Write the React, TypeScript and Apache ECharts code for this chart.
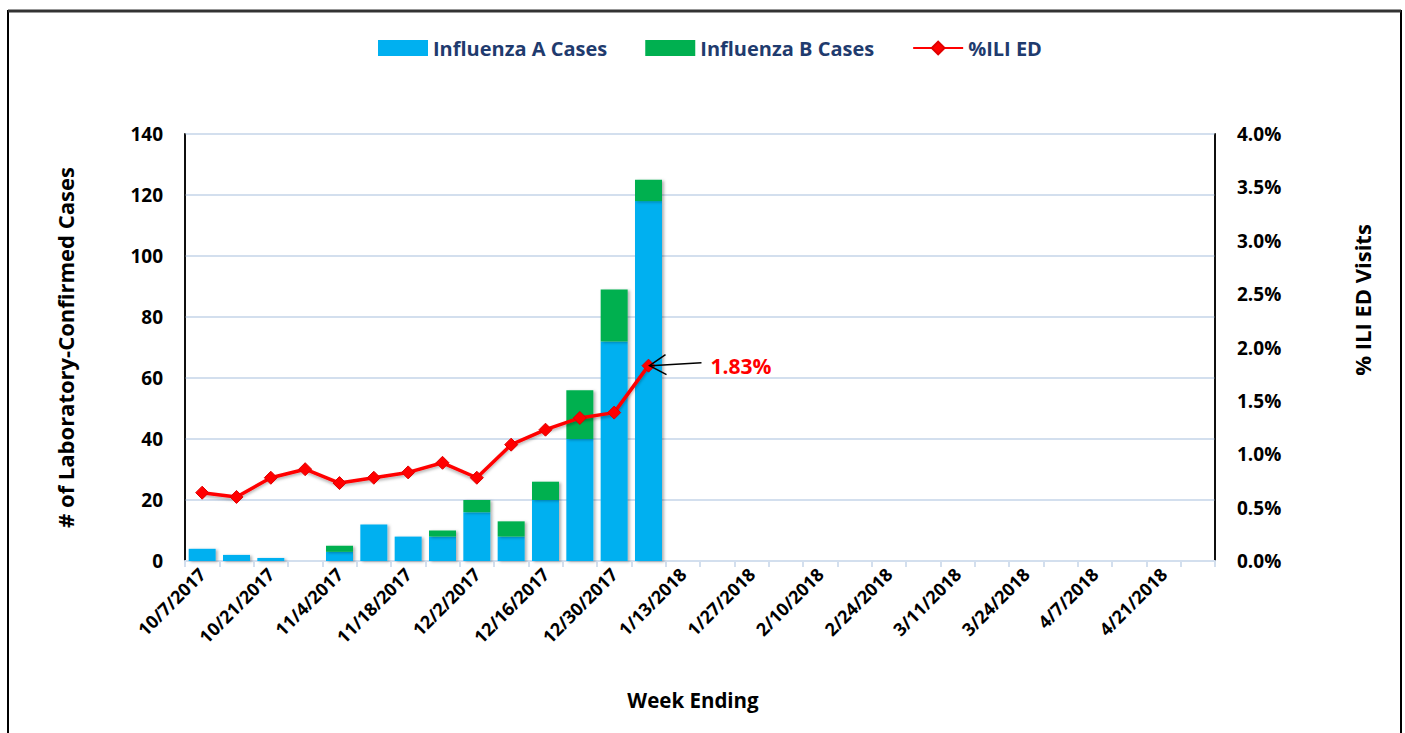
import React, { useEffect, useRef } from "react";
import * as echarts from "echarts";

const weeks = [
  "10/7/2017", "10/14/2017", "10/21/2017", "10/28/2017", "11/4/2017", "11/11/2017",
  "11/18/2017", "11/25/2017", "12/2/2017", "12/9/2017", "12/16/2017", "12/23/2017",
  "12/30/2017", "1/6/2018", "1/13/2018", "1/20/2018", "1/27/2018", "2/3/2018",
  "2/10/2018", "2/17/2018", "2/24/2018", "3/3/2018", "3/11/2018", "3/17/2018",
  "3/24/2018", "3/31/2018", "4/7/2018", "4/14/2018", "4/21/2018", "4/28/2018",
];
const fluA = [4, 2, 1, 0, 3, 12, 8, 8, 16, 8, 20, 40, 72, 118];
const fluB = [0, 0, 0, 0, 2, 0, 0, 2, 4, 5, 6, 16, 17, 7];
const iliPct = [0.64, 0.6, 0.78, 0.86, 0.73, 0.78, 0.83, 0.92, 0.78, 1.09, 1.23, 1.34, 1.39, 1.83];
const leftTicks = { min: 0, max: 140, interval: 20 };
const rightTicks = { min: 0, max: 4, interval: 0.5 };
const calloutIndex = 13;

const FONT = "'Open Sans', 'DejaVu Sans', sans-serif";

export default function App() {
  const ref = useRef<HTMLDivElement>(null);
  useEffect(() => {
    document.body.style.margin = "0";
    if (!ref.current) return;
    const chart = echarts.init(ref.current, null, { renderer: "svg" });
    const pad = (arr: number[]) => weeks.map((_, i) => (i < arr.length ? arr[i] : null));
    const shadow = {
      shadowColor: "rgba(0,0,0,0.3)",
      shadowBlur: 3,
      shadowOffsetX: 2,
      shadowOffsetY: 1,
    };
    chart.setOption({
      animation: false,
      backgroundColor: "#fff",
      textStyle: { fontFamily: FONT },
      legend: {
        top: 38,
        left: 378,
        padding: 0,
        itemWidth: 50,
        itemHeight: 16,
        itemGap: 38,
        textStyle: { fontFamily: FONT, fontWeight: "bold", fontSize: 20, color: "#1F3B6E" },
        data: [
          { name: "Influenza A Cases", icon: "rect" },
          { name: "Influenza B Cases", icon: "rect" },
          { name: "%ILI ED" },
        ],
      },
      grid: {
        left: 185,
        right: 190,
        top: 134,
        bottom: 172,
        show: true,
        borderColor: "#000",
        borderWidth: 1.5,
      },
      xAxis: {
        type: "category",
        data: weeks,
        boundaryGap: true,
        axisLine: { lineStyle: { color: "#D3DFEE", width: 2 } },
        axisTick: { show: true, interval: 0, length: 6, lineStyle: { color: "#D3DFEE", width: 2 } },
        axisLabel: {
          interval: 1,
          rotate: 45,
          margin: 10,
          fontFamily: FONT,
          fontWeight: "bold",
          fontSize: 18,
          color: "#000",
        },
      },
      yAxis: [
        {
          type: "value",
          ...leftTicks,
          name: "# of Laboratory-Confirmed Cases",
          nameLocation: "middle",
          nameGap: 109,
          nameTextStyle: { fontFamily: FONT, fontWeight: "bold", fontSize: 22, color: "#000" },
          axisLine: { show: true, lineStyle: { color: "#000", width: 1.5 } },
          axisTick: { show: false },
          axisLabel: { margin: 22, fontFamily: FONT, fontWeight: "bold", fontSize: 19, color: "#000" },
          splitLine: { show: true, lineStyle: { color: "#D3DFEE", width: 2 } },
        },
        {
          type: "value",
          ...rightTicks,
          position: "right",
          axisLine: { show: true, lineStyle: { color: "#000", width: 1.5 } },
          axisTick: { show: false },
          axisLabel: {
            margin: 22,
            fontFamily: FONT,
            fontWeight: "bold",
            fontSize: 19,
            color: "#000",
            formatter: (v: number) => v.toFixed(1) + "%",
          },
          splitLine: { show: false },
        },
      ],
      series: [
        {
          name: "Influenza A Cases",
          type: "bar",
          stack: "cases",
          data: pad(fluA),
          barWidth: 27,
          itemStyle: { color: "#00B0F0", ...shadow },
        },
        {
          name: "Influenza B Cases",
          type: "bar",
          stack: "cases",
          data: pad(fluB),
          barWidth: 27,
          itemStyle: { color: "#00B050", ...shadow },
        },
        {
          name: "%ILI ED",
          type: "line",
          yAxisIndex: 1,
          data: pad(iliPct),
          symbol: "diamond",
          symbolSize: 13,
          lineStyle: { color: "#FF0000", width: 3.5, shadowColor: "rgba(0,0,0,0.3)", shadowBlur: 3, shadowOffsetY: 2 },
          itemStyle: { color: "#FF0000", borderColor: "#E00000", borderWidth: 1 },
          z: 5,
        },
      ],
      graphic: [
        {
          id: "frame",
          type: "rect",
          shape: { x: 8, y: 11, width: 1393, height: 760 },
          style: { fill: "none", stroke: "#000", lineWidth: 2 },
          silent: true,
        },
        {
          id: "frameTop",
          type: "line",
          shape: { x1: 8, y1: 11, x2: 1401, y2: 11 },
          style: { stroke: "#333", lineWidth: 3 },
          silent: true,
        },
        {
          id: "xTitle",
          type: "text",
          x: 693,
          y: 700,
          style: {
            text: "Week Ending",
            fontFamily: FONT,
            fontWeight: "bold",
            fontSize: 20.5,
            fill: "#000",
            align: "center",
            verticalAlign: "middle",
          },
        },
        {
          id: "rightTitle",
          type: "text",
          x: 1362,
          y: 300,
          rotation: Math.PI / 2,
          style: {
            text: "% ILI ED Visits",
            fontFamily: FONT,
            fontWeight: "bold",
            fontSize: 22,
            fill: "#000",
            align: "center",
            verticalAlign: "middle",
          },
        },
      ],
    });

    const p = chart.convertToPixel({ seriesIndex: 2 }, [calloutIndex, iliPct[calloutIndex]]) as number[];
    if (p) {
      const [px, py] = p;
      chart.setOption({
        graphic: [
          {
            id: "arrowShaft",
            type: "line",
            shape: { x1: px + 2, y1: py, x2: px + 53, y2: py - 3 },
            style: { stroke: "#000", lineWidth: 1.5 },
            z: 10,
          },
          {
            id: "arrowHead",
            type: "polyline",
            shape: { points: [[px + 17, py - 11], [px + 1, py], [px + 18, py + 9]] },
            style: { stroke: "#000", lineWidth: 1.5, fill: "none" },
            z: 10,
          },
          {
            id: "calloutText",
            type: "text",
            x: px + 62,
            y: py,
            style: {
              text: iliPct[calloutIndex].toFixed(2) + "%",
              fontFamily: FONT,
              fontWeight: "bold",
              fontSize: 21,
              fill: "#FF0000",
              align: "left",
              verticalAlign: "middle",
            },
            z: 10,
          },
        ],
      });
    }
    return () => chart.dispose();
  }, []);
  return <div ref={ref} style={{ width: 1405, height: 733 }} />;
}
